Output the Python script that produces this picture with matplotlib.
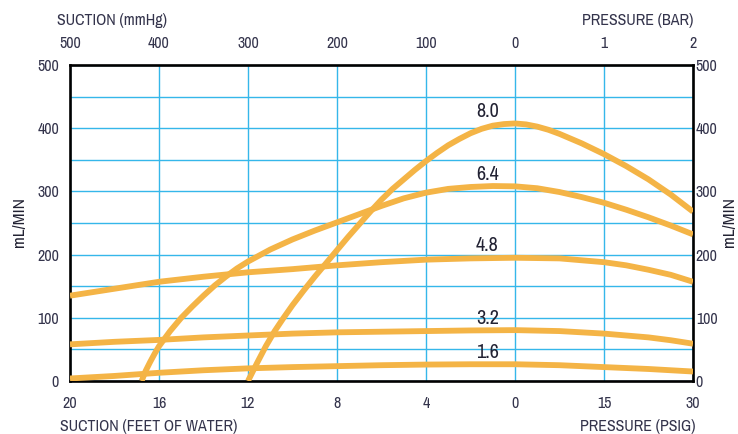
"""Pump flow curves (mL/MIN) vs suction / pressure -> out.png."""

import matplotlib

matplotlib.use("Agg")
import matplotlib.pyplot as plt

FONT = ["Archivo Narrow", "DejaVu Sans"]
TEXT_COLOR = "#34344c"
CURVE_COLOR = "#f4b446"
GRID_COLOR = "#35b7ea"

# the x axis is a set of 8 evenly spaced gridlines carrying two unit systems
TICK_POS = [0, 1, 2, 3, 4, 5, 6, 7]
BOTTOM_LABELS = ["20", "16", "12", "8", "4", "0", "15", "30"]
TOP_LABELS = ["500", "400", "300", "200", "100", "0", "1", "2"]
Y_TICKS = [0, 100, 200, 300, 400, 500]
Y_MINOR = [50, 150, 250, 350, 450]

# flow curves (x in gridline units)
X_FLAT = [0, 0.5, 1, 1.5, 2, 2.5, 3, 3.5, 4, 4.5, 5, 5.5, 6, 6.25, 6.5, 6.75, 7]
FLOW_1_6 = [4, 8, 13, 17, 20, 22, 23.5, 25, 26, 26.5, 26.5, 25, 22, 20.5, 19, 17, 15]
FLOW_3_2 = [58, 62, 65, 69, 72, 75, 77, 78, 79, 80, 80.5, 79, 75, 72, 69, 64.5, 59]
FLOW_4_8 = [135, 146, 157, 165, 172, 177, 183, 188, 192, 194, 195, 194, 188, 183, 176, 168, 157]

X_6_4 = [0.805, 0.85, 0.9, 0.95, 1.0, 1.125, 1.25, 1.375, 1.5, 1.625, 1.75, 1.875, 2.0,
         2.25, 2.5, 2.75, 3.0, 3.25, 3.5, 3.75, 4.0, 4.25, 4.5, 4.75, 5.0, 5.25, 5.5,
         5.75, 6.0, 6.25, 6.5, 6.75, 7.0]
FLOW_6_4 = [0, 16, 30, 43, 55, 79, 100, 118, 135, 151, 165, 178, 189,
            208, 224, 238, 251, 264, 277, 289, 298, 304, 307, 308.5, 308, 305, 299,
            291, 282, 271, 259, 246, 232]

X_8_0 = [2.0, 2.1, 2.2, 2.3, 2.4, 2.5, 2.625, 2.75, 2.875, 3.0, 3.125, 3.25, 3.375, 3.5,
         3.625, 3.75, 3.875, 4.0, 4.125, 4.25, 4.375, 4.5, 4.625, 4.75, 4.875, 5.0,
         5.125, 5.25, 5.375, 5.5, 5.75, 6.0, 6.25, 6.5, 6.75, 7.0]
FLOW_8_0 = [0, 28, 55, 79, 100, 120, 143, 165, 186, 207, 228, 248, 268, 287,
            304, 319, 334, 348, 361, 373, 383, 392, 399, 404, 406.5, 407.5,
            406, 402.5, 397.5, 391, 376, 359, 340, 319, 295, 268]

CURVES = [
    ("8.0", X_8_0, FLOW_8_0),
    ("6.4", X_6_4, FLOW_6_4),
    ("4.8", X_FLAT, FLOW_4_8),
    ("3.2", X_FLAT, FLOW_3_2),
    ("1.6", X_FLAT, FLOW_1_6),
]
LABEL_X = 4.69

fig = plt.figure(figsize=(7.38, 4.34), dpi=100)
ax = fig.add_axes([70 / 738, 1 - 381 / 434, 623 / 738, 316 / 434])

for name, xs, ys in CURVES:
    ax.plot(xs, ys, color=CURVE_COLOR, lw=4.2, solid_capstyle="butt",
            solid_joinstyle="round", zorder=3)
    ax.annotate(name, (LABEL_X, max(ys)), xytext=(0, 8.5), textcoords="offset points",
                ha="center", va="center", fontsize=14.5, color="#222233", family=FONT)

ax.set_xlim(0, 7)
ax.set_ylim(0, 500)
ax.set_xticks(TICK_POS)
ax.set_xticklabels(BOTTOM_LABELS)
ax.set_yticks(Y_TICKS)
ax.set_yticks(Y_MINOR, minor=True)
ax.grid(which="both", color=GRID_COLOR, lw=1.0, zorder=1)
ax.set_axisbelow(True)
ax.tick_params(which="both", length=0)
ax.tick_params(axis="x", pad=11)
ax.tick_params(axis="y", pad=8)
for s in ax.spines.values():
    s.set_linewidth(1.9)
    s.set_color("black")

top = ax.secondary_xaxis("top")
top.set_xticks(TICK_POS)
top.set_xticklabels(TOP_LABELS)
top.tick_params(length=0, pad=10)
right = ax.secondary_yaxis("right")
right.set_yticks(Y_TICKS)
right.tick_params(length=0, pad=2)

for axis in (ax, top, right):
    for lab in axis.get_xticklabels() + axis.get_yticklabels():
        lab.set_family(FONT)
        lab.set_fontsize(11.5)
        lab.set_color(TEXT_COLOR)

title_kw = dict(fontsize=11.5, color=TEXT_COLOR, family=FONT, va="center")
fig.text(57 / 738, 1 - 20 / 434, "SUCTION (mmHg)", ha="left", **title_kw)
fig.text(693 / 738, 1 - 20 / 434, "PRESSURE (BAR)", ha="right", **title_kw)
fig.text(60 / 738, 1 - 427 / 434, "SUCTION (FEET OF WATER)", ha="left", **title_kw)
fig.text(696 / 738, 1 - 427 / 434, "PRESSURE (PSIG)", ha="right", **title_kw)
ylab_kw = dict(ha="center", va="center", rotation=90, fontsize=12.5,
               color="#222233", family=FONT)
fig.text(19 / 738, 1 - 222 / 434, "mL/MIN", **ylab_kw)
fig.text(730 / 738, 1 - 222 / 434, "mL/MIN", **ylab_kw)

fig.savefig("out.png", dpi=100)
plt.close(fig)
